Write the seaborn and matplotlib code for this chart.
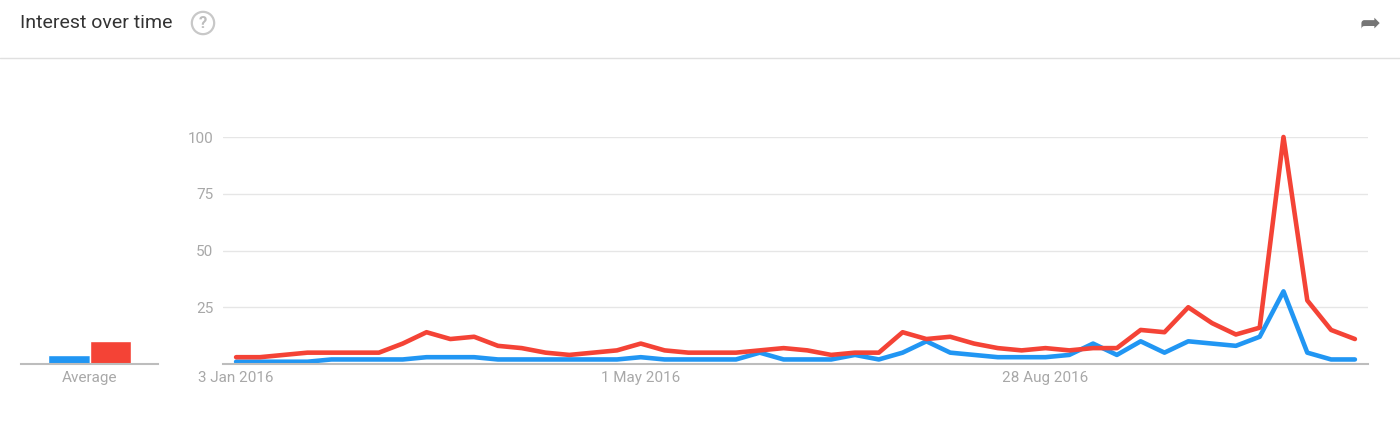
import numpy as np
import pandas as pd
import matplotlib
matplotlib.use("Agg")
import matplotlib.pyplot as plt
import seaborn as sns
from matplotlib.lines import Line2D

# Weekly interest values, weeks starting 3 Jan 2016
weeks = pd.date_range("2016-01-03", periods=48, freq="7D")
blue_values = [1, 1, 1, 1, 2, 2, 2, 2, 3, 3, 3, 2, 2, 2, 2, 2,
               2, 3, 2, 2, 2, 2, 5, 2, 2, 2, 4, 2, 5, 10, 5, 4,
               3, 3, 3, 4, 9, 4, 10, 5, 10, 9, 8, 12, 32, 5, 2, 2]
red_values = [3, 3, 4, 5, 5, 5, 5, 9, 14, 11, 12, 8, 7, 5, 4, 5,
              6, 9, 6, 5, 5, 5, 6, 7, 6, 4, 5, 5, 14, 11, 12, 9,
              7, 6, 7, 6, 7, 7, 15, 14, 25, 18, 13, 16, 100, 28, 15, 11]
series_names = ["blue", "red"]
average_values = [4, 10]
series_colors = {"blue": "#2196F3", "red": "#F44336"}

y_ticks = [25, 50, 75, 100]
x_tick_weeks = [0, 17, 34]
x_tick_labels = ["3 Jan 2016", "1 May 2016", "28 Aug 2016"]

df = pd.DataFrame({
    "week": list(range(len(weeks))) * 2,
    "value": blue_values + red_values,
    "series": ["blue"] * len(blue_values) + ["red"] * len(red_values),
})
avg_df = pd.DataFrame({"series": series_names, "value": average_values})

sns.set_theme(style="white")
plt.rcParams["font.family"] = ["Roboto", "DejaVu Sans"]

fig = plt.figure(figsize=(14, 4.29), dpi=100)

# header
fig.text(20 / 1400, 1 - 23 / 429, "Interest over time", fontsize=14,
         color="#333333", va="center", ha="left")
fig.text(203 / 1400, 1 - 23 / 429, "?", fontsize=12, color="#bdbdbd",
         va="center", ha="center", fontweight="bold",
         bbox=dict(boxstyle="circle,pad=0.22", fc="white", ec="#c8c8c8", lw=1.6))
fig.text(1370 / 1400, 1 - 24 / 429, "\u27A6", fontsize=18, color="#757575",
         va="center", ha="center", family=["DejaVu Sans"])
fig.add_artist(Line2D([0, 1], [1 - 58 / 429, 1 - 58 / 429],
                      transform=fig.transFigure, color="#e0e0e0", lw=1))

bottom = 1 - 364 / 429
height = (364 - 137) / 429
tick_color = "#a8a8a8"

# main chart
ax = fig.add_axes([223 / 1400, bottom, (1368 - 223) / 1400, height])
sns.lineplot(data=df, x="week", y="value", hue="series", palette=series_colors,
             linewidth=3.3, legend=False, ax=ax, clip_on=False)
ax.set_xlim(-0.55, 47.55)
ax.set_ylim(0, 100)
ax.set_yticks(y_ticks)
ax.set_yticklabels([str(t) for t in y_ticks])
ax.set_xticks(x_tick_weeks)
ax.set_xticklabels(x_tick_labels)
ax.grid(axis="y", color="#e6e6e6", lw=1)
ax.set_axisbelow(True)
for s in ["top", "right", "left"]:
    ax.spines[s].set_visible(False)
ax.spines["bottom"].set_color("#bdbdbd")
ax.spines["bottom"].set_linewidth(1.5)
ax.tick_params(axis="both", length=0, colors=tick_color, labelsize=11)
ax.tick_params(axis="x", pad=5)
ax.tick_params(axis="y", pad=7)
ax.set_xlabel("")
ax.set_ylabel("")

# average bars
ax2 = fig.add_axes([21 / 1400, bottom, (158 - 21) / 1400, height])
sns.barplot(data=avg_df, x="series", y="value", hue="series",
            palette=series_colors, width=1.0, saturation=1, legend=False, ax=ax2)
ax2.set_xlim(-1.143, 2.143)
ax2.set_ylim(0, 100)
ax2.set_yticks([])
ax2.set_xticks([0.5])
ax2.set_xticklabels(["Average"])
for s in ["top", "right", "left"]:
    ax2.spines[s].set_visible(False)
ax2.spines["bottom"].set_color("#bdbdbd")
ax2.spines["bottom"].set_linewidth(1.5)
ax2.tick_params(axis="x", length=0, colors=tick_color, labelsize=11, pad=5)
ax2.set_xlabel("")
ax2.set_ylabel("")

fig.savefig("out.png", dpi=100, facecolor="white")
